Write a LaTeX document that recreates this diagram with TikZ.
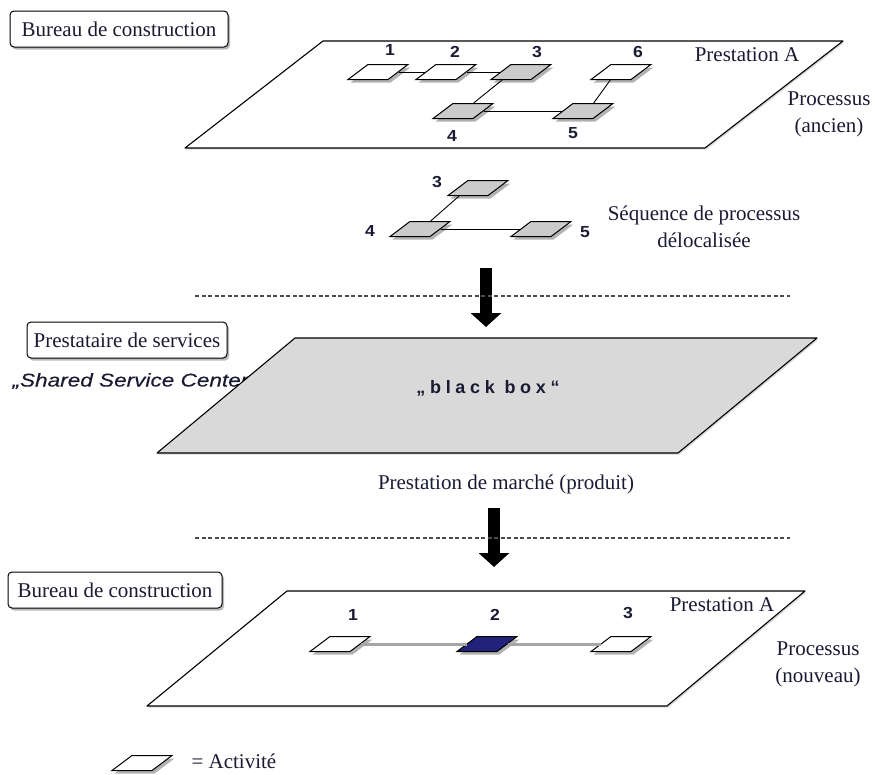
\documentclass[tikz,border=0pt]{standalone}
\usepackage{fontspec}
\setmainfont{Liberation Serif}
\newfontfamily\digitfont{Liberation Sans}[UprightFont={* Bold}, FakeStretch=1.1]
\newfontfamily\italicsans{Liberation Sans}[UprightFont={* Italic}, FakeStretch=1.22, FakeBold=0.3]
\newfontfamily\spacedsans{Liberation Sans}[UprightFont={* Bold}, LetterSpace=26]
\usetikzlibrary{shadows,calc,arrows.meta}

\definecolor{ink}{HTML}{1A1A33}
\definecolor{actgray}{HTML}{CBCBCB}
\definecolor{planegray}{HTML}{D9D9D9}
\definecolor{navybox}{HTML}{22227A}

\tikzset{
  plane/.style={draw=black, line width=1.1pt, line join=round,
    drop shadow={shadow xshift=1.5pt, shadow yshift=-1.5pt, opacity=.3}},
  tag/.style={draw=black, fill=white, rounded corners=4pt, line width=1pt,
    inner sep=2pt, minimum height=36pt, text=ink,
    font=\fontsize{21}{25}\selectfont,
    drop shadow={shadow xshift=2pt, shadow yshift=-2.5pt, opacity=.55}},
  activity/.style={draw=black, fill=white, line width=1pt, inner sep=0pt,
    minimum width=40pt, minimum height=15pt, xslant=1.33,
    drop shadow={shadow xshift=2.5pt, shadow yshift=-3pt, opacity=.6}},
  shaded/.style={activity, fill=actgray},
  num/.style={text=ink, font=\digitfont\fontsize{16}{19}\selectfont},
  note/.style={text=ink, align=center, font=\fontsize{21}{27}\selectfont},
  link/.style={draw=black, line width=0.9pt},
  newlink/.style={draw=gray!70, line width=3pt},
  sep/.style={draw=gray!60!black, line width=1.1pt, dash pattern=on 4pt off 2.5pt},
  bigarrow/.style={line width=12pt, -{Triangle[width=30pt, length=14pt]}}
}

\begin{document}
\begin{tikzpicture}[x=1pt, y=-1pt]
\useasboundingbox (0,0) rectangle (875,774);

% ---------- old process ----------
\node[tag, minimum width=218pt] (tagTop) at (119,29) {Bureau de construction};
\filldraw[plane, fill=white] (185,148) -- (705,148) -- (843,41) -- (323,41) -- cycle;

\node[activity] (o1) at (378,72) {};
\node[activity] (o2) at (446,72) {};
\node[shaded]   (o3) at (521,72) {};
\node[activity] (o6) at (621,72) {};
\node[shaded]   (o4) at (463,111) {};
\node[shaded]   (o5) at (583,111) {};

\draw[link] (o1.east) -- (o2.west);
\draw[link] (o2.east) -- (o3.west);
\draw[link] ($(o3.south west)!0.3!(o3.south east)$) -- (o4.north);
\draw[link] (o4.east) -- (o5.west);
\draw[link] (o5.north) -- (o6.south);

\node[num] (n1) at (390,50) {1};
\node[num] (n2) at (455,52) {2};
\node[num] (n3) at (537,52) {3};
\node[num] (n6) at (638,52) {6};
\node[num] (n4) at (452,136) {4};
\node[num] (n5) at (573,133) {5};

\node[note] (prestTop) at (747,55) {Prestation A};
\node[note] (procOld) at (829,114) {Processus\\(ancien)};

% ---------- outsourced sequence ----------
\node[shaded] (s3) at (478,188) {};
\node[shaded] (s4) at (420,229) {};
\node[shaded] (s5) at (541,229) {};
\draw[link] ($(s3.south west)!0.3!(s3.south east)$) -- (s4.north);
\draw[link] (s4.east) -- (s5.west);
\node[num] (m3) at (437,182) {3};
\node[num] (m4) at (370,231) {4};
\node[num] (m5) at (585,232) {5};
\node[note] (seq) at (704,227) {Séquence de processus\\délocalisée};

\coordinate (a1s) at (486,268);
\coordinate (a1e) at (486,327);
\draw[bigarrow] (a1s) -- (a1e);

\coordinate (d1l) at (195,296);
\coordinate (d1r) at (790,296);
\draw[sep] (d1l) -- (d1r);

% ---------- service provider ----------
\node[tag, minimum width=200pt] (tagMid) at (127,340) {Prestataire de services};
\node[anchor=west, text=ink, font=\italicsans\fontsize{18.5}{22}\selectfont]
  (ssc) at (9,381) {„Shared Service Center“};
\filldraw[plane, fill=planegray] (157,453) -- (678,453) -- (817,338) -- (295,338) -- cycle;
\node[text=ink, font=\spacedsans\fontsize{18}{21}\selectfont] (bb) at (488,388) {„black box“};
\node[note] (market) at (506,484) {Prestation de marché (produit)};

\coordinate (a2s) at (494,508);
\coordinate (a2e) at (494,567);
\draw[bigarrow] (a2s) -- (a2e);

\coordinate (d2l) at (195,538);
\coordinate (d2r) at (790,538);
\draw[sep] (d2l) -- (d2r);

% ---------- new process ----------
\node[tag, minimum width=214pt] (tagBot) at (115,590) {Bureau de construction};
\filldraw[plane, fill=white] (147,706) -- (667,706) -- (805,591) -- (287,591) -- cycle;

\node[activity] (p1) at (340,644) {};
\node[activity, fill=navybox] (p2) at (487,644) {};
\node[activity] (p3) at (621,644) {};
\draw[newlink] (p1.east) -- (p2.west);
\draw[newlink] (p2.east) -- (p3.west);
\node[num] (q1) at (353,615) {1};
\node[num] (q2) at (495,615) {2};
\node[num] (q3) at (628,613) {3};

\node[note] (prestBot) at (722,605) {Prestation A};
\node[note] (procNew) at (818,664) {Processus\\(nouveau)};

% ---------- legend ----------
\node[activity, drop shadow={opacity=0}] (leg) at (142,763) {};
\node[anchor=west, text=ink, font=\fontsize{21}{25}\selectfont] (legText) at (188,761) {= Activité};
\end{tikzpicture}
\end{document}
